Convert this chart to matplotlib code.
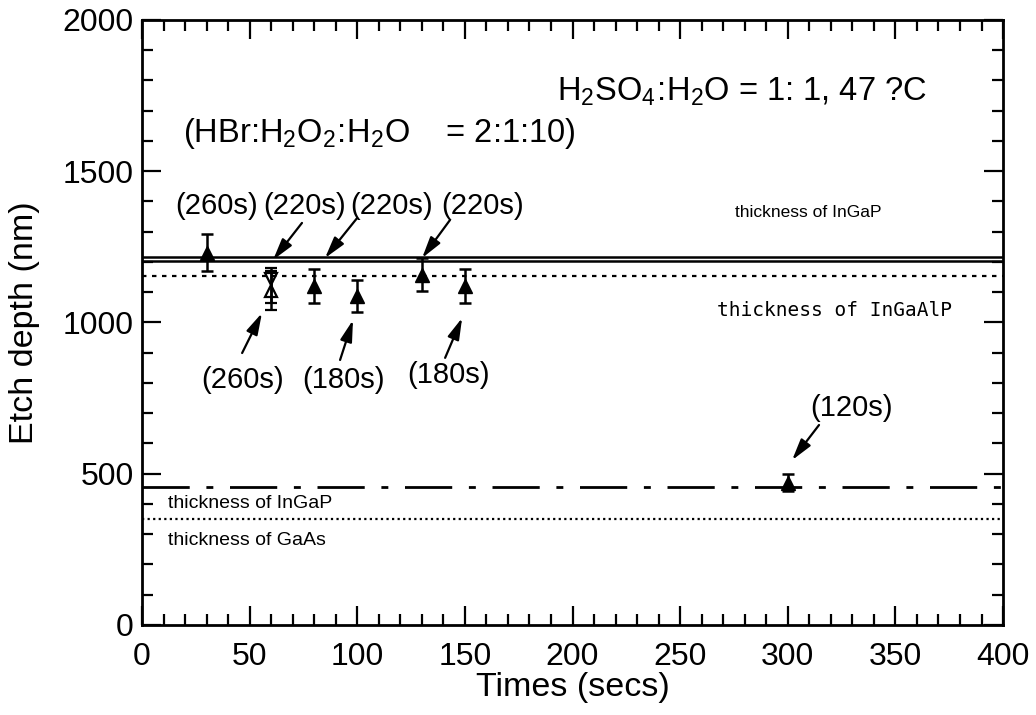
import matplotlib
matplotlib.use("Agg")
import matplotlib.pyplot as plt
from matplotlib.ticker import MultipleLocator

plt.rcParams['font.family'] = ['Liberation Sans', 'DejaVu Sans']
plt.rcParams['mathtext.fontset'] = 'custom'
plt.rcParams['mathtext.rm'] = 'Liberation Sans'
plt.rcParams['mathtext.it'] = 'Liberation Sans'

# filled triangles
t_fill = [30, 80, 100, 130, 150, 300]
d_fill = [1231, 1120, 1088, 1158, 1120, 470]
e_fill = [61, 56, 52, 55, 56, 28]

# open markers at 60 s (two overlapping runs)
t_open = [60, 60]
d_open = [1143, 1105]
e_open_lo = [79, 64]
e_open_hi = [37, 64]

# reference thickness lines (nm)
ingap_top = [1217, 1203]
ingaalp = 1154
ingap_low = 457
gaas = 351

fig = plt.figure(figsize=(10.36, 7.15), dpi=100)
ax = fig.add_axes([0.1371, 0.1259, 0.8311, 0.8462])

for y in ingap_top:
    ax.axhline(y, color='k', lw=1.8)
ax.axhline(ingaalp, color='k', lw=1.6, ls=(0, (2, 2.5)))
ax.axhline(ingap_low, color='k', lw=2, ls=(0, (17, 6, 2.5, 6)))
ax.axhline(gaas, color='k', lw=1.6, ls=(0, (1, 1.5)))

eb = dict(color='k', capsize=4, elinewidth=1.8, capthick=1.8)
ax.errorbar(t_fill, d_fill, yerr=e_fill, fmt='^', ms=10, **eb)
ax.errorbar(t_open[:1], d_open[:1], yerr=[e_open_lo[:1], e_open_hi[:1]],
            fmt='v', mfc='none', ms=8, mew=1.6, **eb)
ax.errorbar(t_open[1:], d_open[1:], yerr=[e_open_lo[1:], e_open_hi[1:]],
            fmt='^', mfc='none', ms=8, mew=1.6, **eb)

ax.set_xlim(0, 400)
ax.set_ylim(0, 2000)
ax.xaxis.set_major_locator(MultipleLocator(50))
ax.xaxis.set_minor_locator(MultipleLocator(10))
ax.yaxis.set_major_locator(MultipleLocator(500))
ax.yaxis.set_minor_locator(MultipleLocator(100))
ax.tick_params(which='both', direction='in', top=True, right=True, width=1.6)
ax.tick_params(which='major', length=14, labelsize=23)
ax.tick_params(which='minor', length=8)
ax.tick_params(axis='x', which='major', pad=12)
ax.tick_params(axis='y', which='major', pad=6)
for s in ax.spines.values():
    s.set_linewidth(2)

ax.set_xlabel('Times (secs)', fontsize=24.5, labelpad=0)
ax.set_ylabel('Etch depth (nm)', fontsize=24.5, labelpad=16)

# etchant notes
ax.text(192.8, 1762, r'$\mathrm{H_2SO_4\!:\!H_2O}$ = 1: 1, 47 ?C', fontsize=23.5,
        va='center', ha='left')
ax.text(19, 1626, r'(HBr:$\mathrm{H_2O_2\!:\!H_2O}$    = 2:1:10)', fontsize=23.5,
        va='center', ha='left')

# layer labels
ax.text(309.4, 1362, 'thickness of InGaP', fontsize=12.5, ha='center', va='center')
ax.text(321.5, 1041, 'thickness of InGaAlP', fontsize=14, ha='center', va='center',
        family='DejaVu Sans Mono')
ax.text(12.1, 400, 'thickness of InGaP', fontsize=14, ha='left', va='center')
ax.text(12.1, 278, 'thickness of GaAs', fontsize=14, ha='left', va='center')

# etch-time annotations
ax.text(34.8, 1385, '(260s)', fontsize=21, ha='center', va='center')
arrow = dict(arrowstyle='-|>,head_length=0.65,head_width=0.18', color='k', lw=1.6,
             mutation_scale=20, shrinkA=0, shrinkB=0)
notes = [
    ('(220s)', (75.7, 1385), (74.3, 1329), (60.9, 1207)),
    ('(220s)', (116.1, 1385), (99.9, 1345), (85.0, 1213)),
    ('(220s)', (158.0, 1385), (143.1, 1339), (130.1, 1213)),
    ('(260s)', (46.5, 810), (46.5, 899), (55.7, 1031)),
    ('(180s)', (93.8, 810), (92.0, 876), (98.0, 1008)),
    ('(180s)', (142.6, 826), (140.8, 883), (148.7, 1015)),
    ('(120s)', (329.8, 717), (314.5, 661), (302.0, 545)),
]
for label, pos, tail, head in notes:
    ax.text(pos[0], pos[1], label, fontsize=21, ha='center', va='center')
    ax.annotate('', xy=head, xytext=tail, arrowprops=arrow)

fig.savefig('out.png', dpi=100)
